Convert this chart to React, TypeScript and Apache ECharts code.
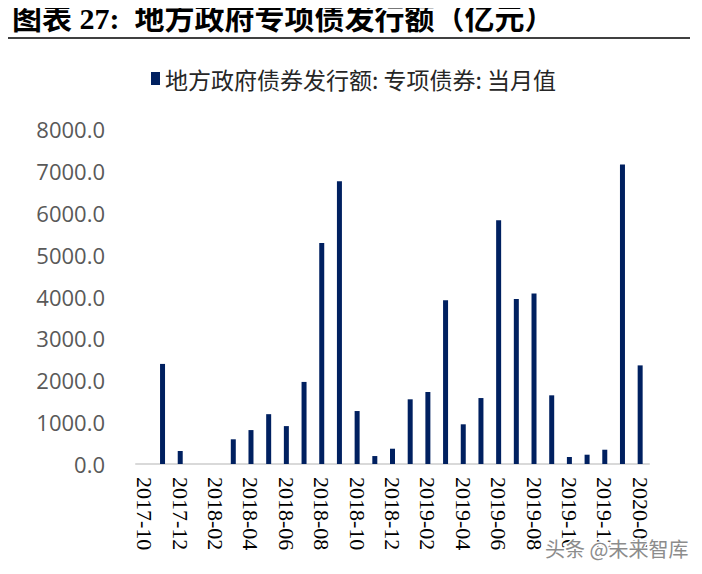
import React, { useEffect, useRef } from "react";
import * as echarts from "echarts";

// Monthly special-purpose bond issuance by local governments (100m yuan)
const months: string[] = [
  "2017-10", "2017-11", "2017-12",
  "2018-01", "2018-02", "2018-03", "2018-04", "2018-05", "2018-06",
  "2018-07", "2018-08", "2018-09", "2018-10", "2018-11", "2018-12",
  "2019-01", "2019-02", "2019-03", "2019-04", "2019-05", "2019-06",
  "2019-07", "2019-08", "2019-09", "2019-10", "2019-11", "2019-12",
  "2020-01", "2020-02",
];

const specialBonds: number[] = [
  0, 2390, 310,
  0, 0, 590, 810, 1190, 905,
  1960, 5275, 6750, 1265, 190, 365,
  1545, 1720, 3910, 948, 1575, 5820,
  3940, 4070, 1640, 167, 222, 341,
  7155, 2355,
];

const seriesName = "地方政府债券发行额: 专项债券: 当月值";
const chartTitle = "图表 27:  地方政府专项债发行额（亿元）";
const yTicks = { min: 0, max: 8000, interval: 1000 };

export default function App() {
  const ref = useRef<HTMLDivElement>(null);

  useEffect(() => {
    if (!ref.current) return;
    const chart = echarts.init(ref.current, null, { renderer: "svg" });
    chart.setOption({
      animation: false,
      backgroundColor: "#ffffff",
      graphic: [
        {
          type: "text",
          left: 12,
          top: 3,
          style: {
            text: chartTitle,
            font: "bold 30px 'Liberation Serif', 'Noto Sans CJK SC'",
            fill: "#000000",
          },
        },
        {
          type: "line",
          shape: { x1: 0, y1: 38, x2: 690, y2: 38 },
          style: { stroke: "#000000", lineWidth: 1.5 },
        },
        {
          type: "text",
          right: 12,
          top: 537,
          z: 100,
          style: {
            text: "头条 @未来智库",
            font: "20px 'Noto Sans CJK SC'",
            fill: "#8c8c8c",
            stroke: "#ffffff",
            lineWidth: 3,
          },
        },
      ],
      legend: {
        top: 62,
        left: 146,
        itemWidth: 9,
        itemHeight: 13,
        itemGap: 4,
        icon: "rect",
        textStyle: {
          fontFamily: "'Noto Sans CJK SC'",
          fontSize: 23,
          color: "#262626",
        },
        data: [seriesName],
      },
      grid: {
        left: 136,
        right: 53,
        top: 129,
        bottom: 110,
        containLabel: false,
      },
      xAxis: {
        type: "category",
        data: months,
        axisLine: { show: true, lineStyle: { color: "#d9d9d9", width: 2 } },
        axisTick: { show: false },
        axisLabel: {
          interval: 1,
          rotate: -90,
          margin: 13,
          fontFamily: "'Liberation Serif'",
          fontSize: 22,
          color: "#000000",
        },
      },
      yAxis: {
        type: "value",
        min: yTicks.min,
        max: yTicks.max,
        interval: yTicks.interval,
        axisLine: { show: false },
        axisTick: { show: false },
        splitLine: { show: false },
        axisLabel: {
          margin: 31,
          fontFamily: "'Open Sans'",
          fontSize: 22,
          color: "#595959",
          formatter: (v: number) => v.toFixed(1),
        },
      },
      series: [
        {
          name: seriesName,
          type: "bar",
          data: specialBonds,
          barWidth: 5,
          itemStyle: { color: "#002060" },
        },
      ],
    });
    return () => chart.dispose();
  }, []);

  return <div ref={ref} style={{ width: 702, height: 574, margin: -8 }} />;
}
